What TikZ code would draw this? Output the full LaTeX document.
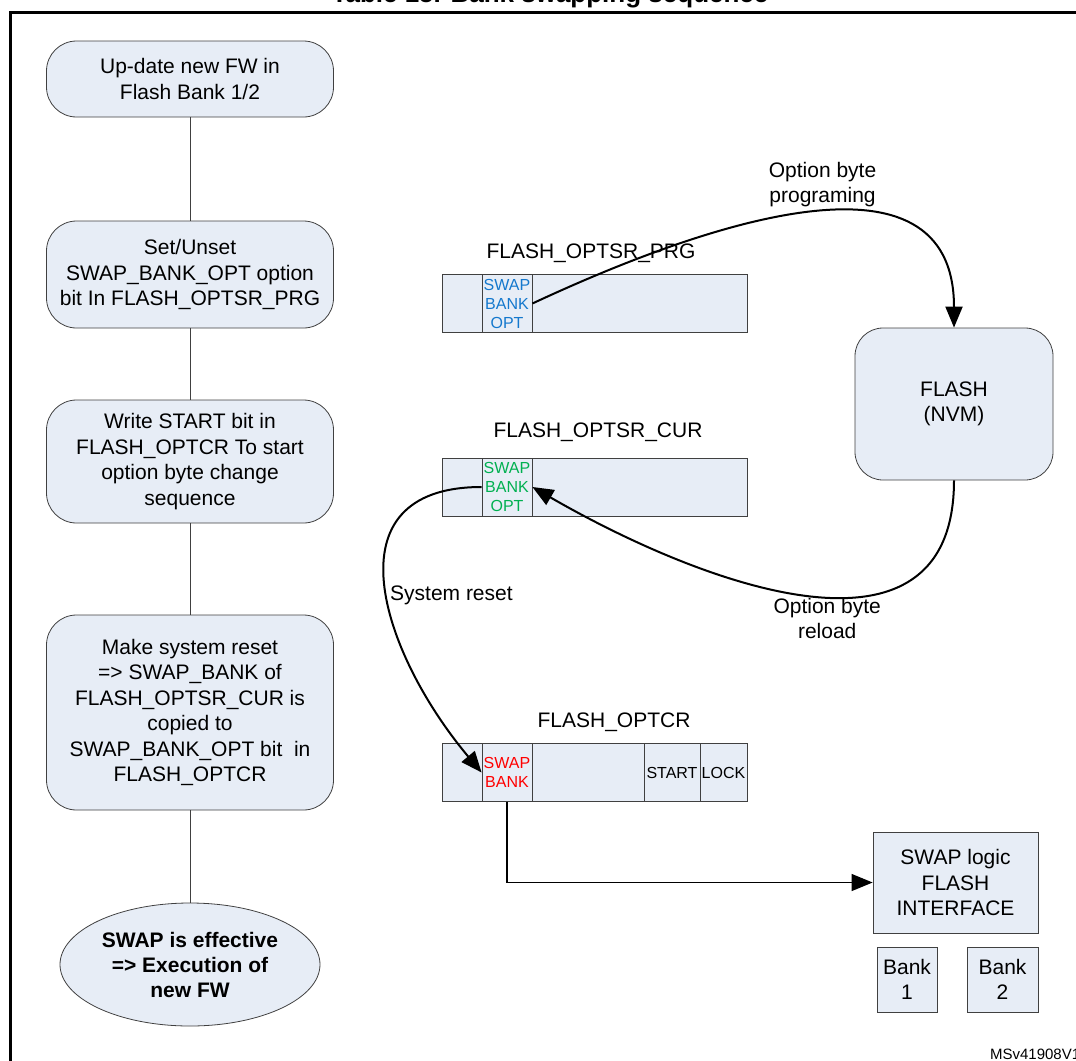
\documentclass[tikz,border=0pt]{standalone}
\usepackage{fontspec}
\setmainfont{Liberation Sans}
\usepackage{tikz}
\usetikzlibrary{arrows.meta,shapes.geometric}
\definecolor{boxfill}{RGB}{231,237,246}
\definecolor{linegray}{RGB}{64,64,64}
\definecolor{optblue}{RGB}{20,120,205}
\definecolor{optgreen}{RGB}{0,176,80}
\definecolor{optred}{RGB}{255,0,0}

\begin{document}
\begin{tikzpicture}[x=0.5pt, y=-0.5pt,
    every node/.style={font=\fontsize{10.5}{12.7}\selectfont, align=center},
    flowbox/.style={shape=rectangle, rounded corners=15pt, draw=linegray, fill=boxfill, minimum width=143.5pt, inner sep=0pt},
    regbox/.style={shape=rectangle, draw=linegray, fill=boxfill, minimum width=152.5pt, minimum height=29pt, inner sep=0pt},
    bitbox/.style={shape=rectangle, draw=linegray, fill=boxfill, minimum height=29pt, inner sep=0pt, font=\fontsize{8}{9.5}\selectfont},
    blockbox/.style={shape=rectangle, draw=linegray, fill=boxfill, inner sep=0pt},
    arr/.style={-{Triangle[length=10.5pt, width=8.5pt]}, line width=1pt}]
    \useasboundingbox (0,0) rectangle (1076,1060);
    \draw[line width=1.5pt] (10.5,1080) -- (10.5,12) -- (1090,12);
    \node[anchor=base, font=\bfseries\fontsize{13}{15}\selectfont] at (550,2.5) (title) {Table 15. Bank swapping sequence};

    % sequence on the left
    \node[flowbox, minimum height=38pt] at (190,79) (upd) {Up-date new FW in\\Flash Bank 1/2};
    \node[flowbox, minimum height=53.5pt] at (190,274.5) (setbit) {Set/Unset\\SWAP\_BANK\_OPT option\\bit In FLASH\_OPTSR\_PRG};
    \node[flowbox, minimum height=61.5pt] at (190,461.5) (startbit) {Write START bit in\\FLASH\_OPTCR To start\\option byte change\\sequence};
    \node[flowbox, minimum height=97.5pt] at (190,712.5) (sysreset) {Make system reset\\=> SWAP\_BANK of\\FLASH\_OPTSR\_CUR is\\copied to\\SWAP\_BANK\_OPT bit\ \ in\\FLASH\_OPTCR};
    \node[shape=ellipse, draw=linegray, fill=boxfill, minimum width=130pt, minimum height=61.5pt, inner sep=0pt, font=\bfseries\fontsize{10.5}{12.5}\selectfont] at (190,964.5) (effective) {SWAP is effective\\=> Execution of\\new FW};
    \draw[linegray] (upd) -- (setbit);
    \draw[linegray] (setbit) -- (startbit);
    \draw[linegray] (startbit) -- (sysreset);
    \draw[linegray] (sysreset) -- (effective);

    % registers
    \node at (591,253) (prglbl) {FLASH\_OPTSR\_PRG};
    \node[regbox] at (594.5,303.5) (prg) {};
    \node[bitbox, minimum width=25pt, text=optblue] at (507,303.5) (prgbit) {SWAP\\BANK\\OPT};
    \node at (598,432) (curlbl) {FLASH\_OPTSR\_CUR};
    \node[regbox] at (594.5,487) (cur) {};
    \node[bitbox, minimum width=25pt, text=optgreen] at (507,487) (curbit) {SWAP\\BANK\\OPT};
    \node at (614,722) (crlbl) {FLASH\_OPTCR};
    \node[regbox] at (594.5,772.5) (optcr) {};
    \node[bitbox, minimum width=25pt, text=optred] at (507,772.5) (crbit) {SWAP\\BANK};
    \node[bitbox, minimum width=28pt] at (672,772.5) (crstart) {START};
    \node[bitbox, minimum width=23.5pt] at (723.5,772.5) (crlock) {LOCK};

    % flash and swap logic
    \node[blockbox, rounded corners=14pt, minimum width=99pt, minimum height=76pt] at (954,404) (flash) {FLASH\\(NVM)};
    \node[blockbox, minimum width=82.5pt, minimum height=50.5pt] at (955.5,882.5) (swaplogic) {SWAP logic\\FLASH\\INTERFACE};
    \node[blockbox, minimum width=30pt, minimum height=32.5pt] at (907,979.5) (bank1) {Bank\\1};
    \node[blockbox, minimum width=35.5pt, minimum height=32.5pt] at (1002.5,979.5) (bank2) {Bank\\2};
    \node[anchor=base west, font=\fontsize{7.5}{9}\selectfont] at (983,1059) (mscode) {MSv41908V1};

    \path [arr] (prgbit.east) edge[out=25, in=90, looseness=1.15] node[pos=0.53, above, inner sep=2.5pt] {Option byte\\programing} (flash);
    \path [arr] (flash) edge[out=-90, in=-30, looseness=1.2] node[pos=0.46, below, inner sep=0pt] {Option byte\\reload} (curbit.east);
    \path [arr] (curbit.west) edge[out=180, in=130, looseness=1.4] node[pos=0.53, right, inner sep=1pt] {System reset} (crbit.west);
    \draw [arr, line width=0.6pt] (crbit.south) |- (swaplogic);
\end{tikzpicture}
\end{document}
